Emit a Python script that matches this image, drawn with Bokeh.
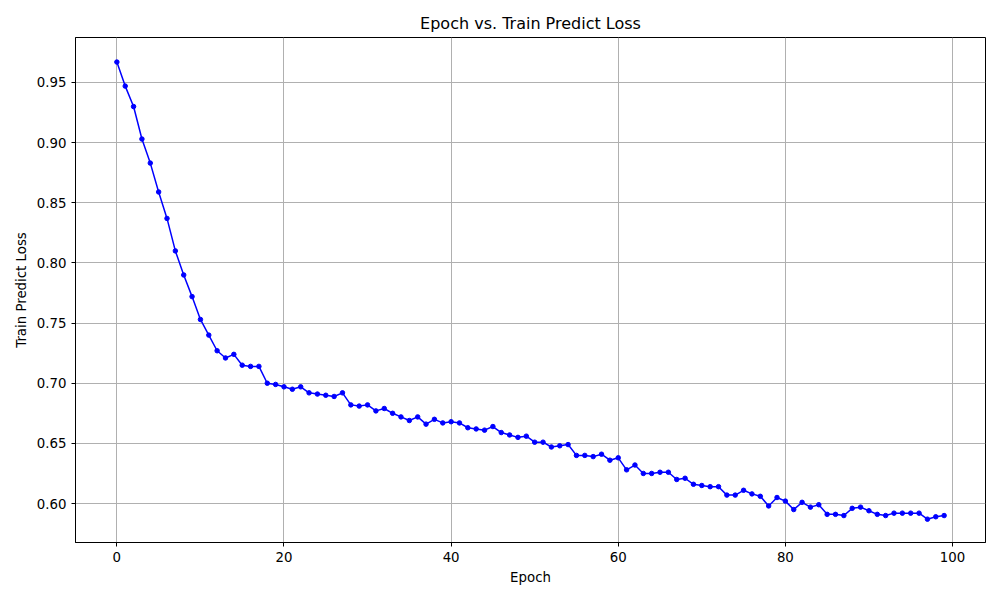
from bokeh.plotting import figure
from bokeh.embed import file_html
from bokeh.resources import INLINE
from bokeh.models import Range1d, FixedTicker, CustomJSTickFormatter

epochs = list(range(100))
loss = [0.967,0.947,0.930,0.903,0.883,0.859,0.837,0.810,0.790,0.772,
        0.753,0.740,0.727,0.721,0.724,0.715,0.714,0.714,0.700,0.699,
        0.697,0.695,0.697,0.692,0.691,0.690,0.689,0.692,0.682,0.681,
        0.682,0.677,0.679,0.675,0.672,0.669,0.672,0.666,0.670,0.667,
        0.668,0.667,0.663,0.662,0.661,0.664,0.659,0.657,0.655,0.656,
        0.651,0.651,0.647,0.648,0.649,0.640,0.640,0.639,0.641,0.636,
        0.638,0.628,0.632,0.625,0.625,0.626,0.626,0.620,0.621,0.616,
        0.615,0.614,0.614,0.607,0.607,0.611,0.608,0.606,0.598,0.605,
        0.602,0.595,0.601,0.597,0.599,0.591,0.591,0.590,0.596,0.597,
        0.594,0.591,0.590,0.592,0.592,0.592,0.592,0.587,0.589,0.590]
xticks = [0, 20, 40, 60, 80, 100]
yticks = [0.60, 0.65, 0.70, 0.75, 0.80, 0.85, 0.90, 0.95]

p = figure(width=992, height=592, output_backend="svg", toolbar_location=None,
           x_range=Range1d(-4.95, 103.95), y_range=Range1d(0.5676, 0.9874),
           title="Epoch vs. Train Predict Loss",
           min_border_left=75, min_border_right=7, min_border_top=37, min_border_bottom=50)
p.title.align = "center"
p.title.text_font = "DejaVu Sans"
p.title.text_font_style = "normal"
p.title.text_font_size = "12pt"
p.title.text_color = "black"
p.xaxis.axis_label = "Epoch"
p.yaxis.axis_label = "Train Predict Loss"
for ax in (p.xaxis, p.yaxis):
    ax.axis_label_text_font = "DejaVu Sans"
    ax.axis_label_text_font_style = "normal"
    ax.axis_label_text_font_size = "10pt"
    ax.axis_label_text_color = "black"
    ax.major_label_text_font = "DejaVu Sans"
    ax.major_label_text_font_size = "10pt"
    ax.major_label_text_color = "black"
    ax.minor_tick_line_color = None
    ax.major_tick_in = 0
    ax.major_tick_out = 4
    ax.major_tick_line_color = "black"
    ax.axis_line_color = "black"
p.xaxis.ticker = FixedTicker(ticks=xticks)
p.yaxis.ticker = FixedTicker(ticks=yticks)
p.yaxis.formatter = CustomJSTickFormatter(code="return tick.toFixed(2);")
p.grid.grid_line_color = "#b0b0b0"
p.grid.grid_line_width = 1
p.outline_line_color = "black"
p.line(epochs, loss, color="blue", line_width=1.5)
p.scatter(epochs, loss, color="blue", size=4.5)

open("out.html", "w").write(file_html(p, INLINE))
